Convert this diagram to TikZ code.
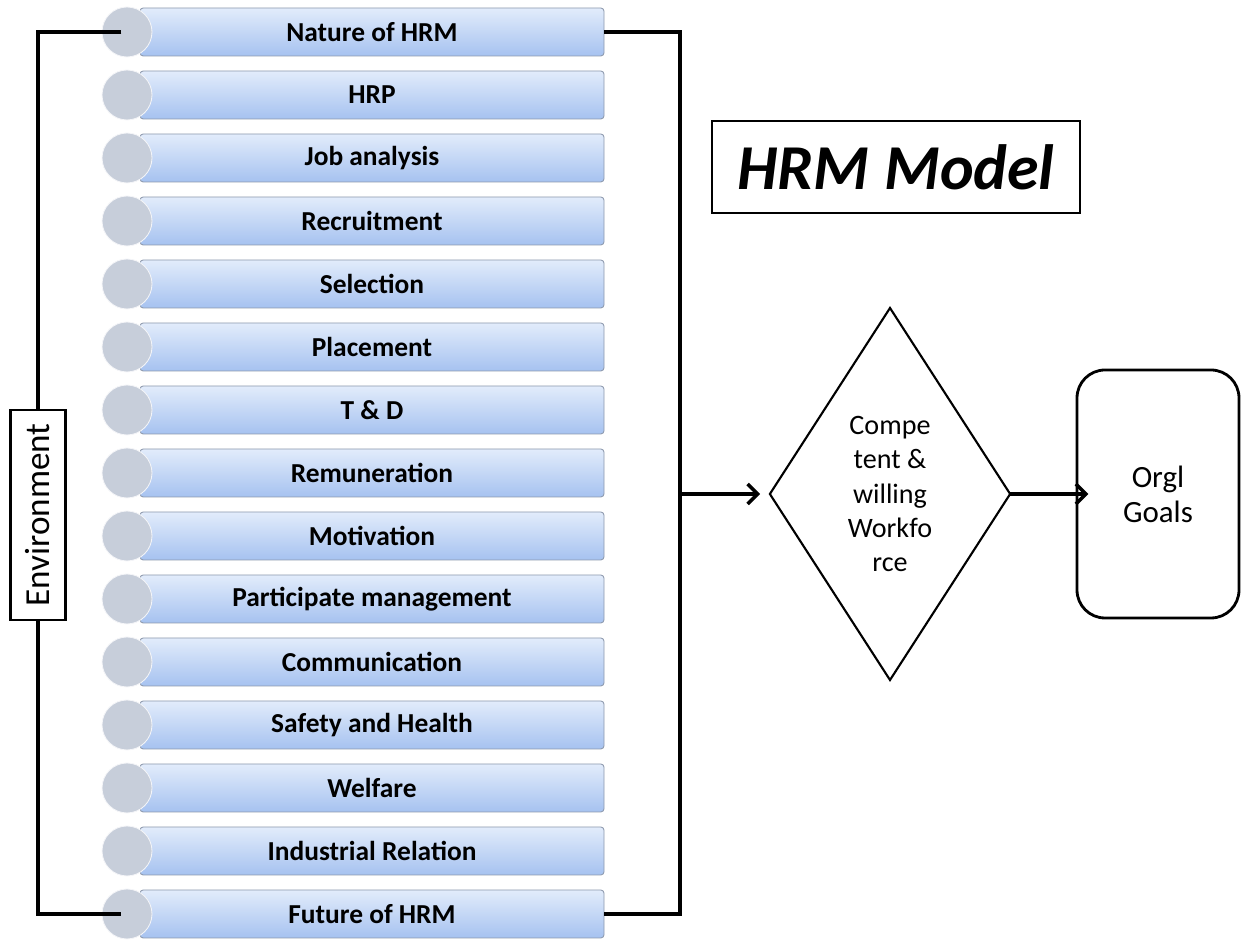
\documentclass[tikz,border=0pt]{standalone}
\usepackage{fontspec}
\setmainfont{Carlito}
\usepackage{graphicx}
\usepackage{tikz}
\usetikzlibrary{positioning}
\usetikzlibrary{shapes.geometric,arrows.meta}
\definecolor{bartop}{HTML}{E2ECFB}
\definecolor{barbot}{HTML}{A6C2F0}
\definecolor{barline}{HTML}{8C98AC}
\definecolor{knobfill}{HTML}{C7CEDA}
\tikzset{
    %Define standard arrow tip
    >={Straight Barb[length=2.5mm,width=5mm]},
    % Define arrow and line styles
    pil/.style={
           ->,
           color=black,
           line width=2.5pt,},
    wire/.style={
           color=black,
           line width=2.5pt,}
}
\newcommand{\barheight}{1.2cm}

\begin{document}
\begin{tikzpicture}[node distance=0cm, outer sep=0pt]
\tikzstyle{itembox}=[draw=barline, top color=bartop, bottom color=barbot, rectangle, line width=0.6pt,
    rounded corners=0.8mm, minimum height=\barheight, minimum width=11.6cm, anchor=west, align=center,
    font=\bfseries\fontsize{19.5}{22}\selectfont]
%
\tikzstyle{knob}=[circle, fill=knobfill, draw=white!80!knobfill, line width=0.6pt,
    minimum size=1.25cm, inner sep=0pt]
%
\tikzstyle{plainbox}=[draw=black, fill=white, rectangle, line width=2pt, align=center]

\useasboundingbox (0,0) rectangle (31.025,23.5);

\foreach \txt [count=\i] in {Nature of HRM, HRP, Job analysis, Recruitment, Selection,
    Placement, {T \& D}, Remuneration, Motivation, Participate management, Communication,
    Safety and Health, Welfare, Industrial Relation, Future of HRM}{
  \node[itembox] (bar\i) at (3.5, {22.7-(\i-1)*1.575}) {\txt};
  \node[knob] (knob\i) at (3.175, {22.7-(\i-1)*1.575}) {};
}

\node[plainbox, minimum width=1.375cm, minimum height=5.25cm, inner sep=0pt] (env) at (0.95,10.625)
    {\rotatebox{90}{\fontsize{25}{29}\selectfont Environment}};

\draw[wire, shorten <=4pt] (knob1.center) -| (env.north);
\draw[wire, shorten >=4pt] (env.south) |- (knob15.center);

\coordinate (bus) at (17,11.15);
\draw[wire] (bar1.east) -| (bus) |- (bar15.east);

\node[draw=black, line width=1.5pt, diamond, minimum width=6cm, minimum height=9.3cm, inner sep=0pt,
    align=center, font=\fontsize{20}{24.5}\selectfont] (crit) at (22.25,11.15)
    {Compe\\ tent \&\\ willing\\ Workfo\\ rce};

\node[draw=black, line width=2pt, rounded corners=7mm, minimum width=4.05cm, minimum height=6.2cm,
    align=center, font=\fontsize{22}{25}\selectfont] (goal) at (28.95,11.15) {Orgl\\ Goals};

\path[pil, shorten >=7pt] (bus) edge (crit.west);
\path[pil, shorten >=-8pt] (crit.east) edge (goal.west);

\node[plainbox, minimum width=9.2cm, minimum height=2.3cm, font=\bfseries\itshape\fontsize{45.5}{50}\selectfont]
    (title) at (22.4,19.325) {HRM Model};

\end{tikzpicture}
\end{document}
